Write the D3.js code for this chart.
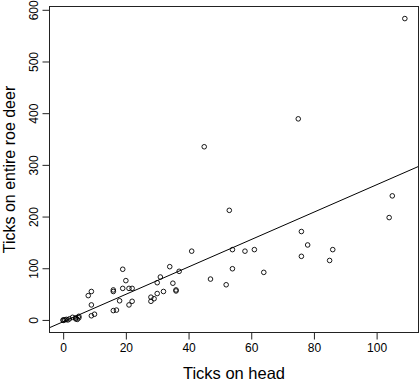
<!DOCTYPE html>
<html>
<head>
<meta charset="utf-8">
<script src="https://cdn.jsdelivr.net/npm/d3@7"></script>
<style>
  html, body { margin: 0; padding: 0; background: #fff; }
  svg { display: block; font-family: "Liberation Sans", Arial, sans-serif; }
</style>
</head>
<body>
<div id="chart"></div>
<script>
// ticks counted on the head vs on the whole animal
const headTicks = [0, 0, 0.5, 1, 1.5, 2, 3, 4, 4, 4.5, 5, 5,
  8, 9, 9, 9, 10,
  16, 16, 16, 17, 18,
  19, 20, 19, 21, 22, 21, 22,
  28, 28, 29, 30, 32, 30, 31, 34, 35, 36, 36, 37,
  41, 45, 47, 52, 53, 54, 54, 58, 61, 64,
  75, 76, 76, 78, 85, 86, 104, 105, 109];
const deerTicks = [0, 1, 1, 2, 1, 3, 6, 3, 5, 2, 8, 5,
  48, 56, 30, 9, 12,
  59, 56, 19, 20, 38,
  99, 77, 62, 62, 62, 30, 37,
  45, 37, 42, 52, 56, 73, 84, 104, 72, 59, 57, 95,
  134, 336, 80, 69, 213, 137, 100, 134, 137, 93,
  390, 172, 124, 146, 116, 137, 199, 241, 584];

const xTickValues = [0, 20, 40, 60, 80, 100];
const yTickValues = [0, 100, 200, 300, 400, 500, 600];

// fitted line (intercept, slope)
const fitCoef = [-2.5, 2.65];

const width = 420, height = 381;
const plot = { left: 49.5, right: 418.5, top: 6.5, bottom: 332.5 };

// R-style 4% padding of the data range
function padded(ext) {
  const d = (ext[1] - ext[0]) * 0.04;
  return [ext[0] - d, ext[1] + d];
}

const x = d3.scaleLinear()
  .domain(padded(d3.extent(headTicks)))
  .range([plot.left, plot.right]);
const y = d3.scaleLinear()
  .domain(padded(d3.extent(deerTicks)))
  .range([plot.bottom, plot.top]);

const svg = d3.select('#chart')
  .append('svg')
  .attr('width', width)
  .attr('height', height);

// points
svg.append('g')
  .selectAll('circle')
  .data(headTicks.map((v, i) => [v, deerTicks[i]]))
  .enter()
  .append('circle')
  .attr('cx', d => x(d[0]))
  .attr('cy', d => y(d[1]))
  .attr('r', 2.3)
  .attr('fill', 'none')
  .attr('stroke', '#000')
  .attr('stroke-width', 0.9);

// regression line across the plot region
const xd = x.domain();
svg.append('line')
  .attr('x1', x(xd[0]))
  .attr('y1', y(fitCoef[0] + fitCoef[1] * xd[0]))
  .attr('x2', x(xd[1]))
  .attr('y2', y(fitCoef[0] + fitCoef[1] * xd[1]))
  .attr('stroke', '#000')
  .attr('stroke-width', 1);

// axes
const xAxis = svg.append('g')
  .attr('transform', `translate(0, ${plot.bottom})`)
  .call(d3.axisBottom(x).tickValues(xTickValues).tickSize(7).tickPadding(4).tickFormat(d3.format('d')));
xAxis.selectAll('text')
  .attr('font-size', '12px')
  .attr('fill', '#000')
  .attr('font-family', '"Liberation Sans", Arial, sans-serif');

const yAxis = svg.append('g')
  .attr('transform', `translate(${plot.left}, 0)`)
  .call(d3.axisLeft(y).tickValues(yTickValues).tickSize(7).tickFormat(d3.format('d')));
yAxis.selectAll('text')
  .attr('font-size', '12px')
  .attr('fill', '#000')
  .attr('font-family', '"Liberation Sans", Arial, sans-serif')
  .attr('text-anchor', 'middle')
  .attr('x', null)
  .attr('dy', null)
  .attr('transform', d => `translate(-11.5, ${y(d)}) rotate(-90)`)
  .attr('y', 0);
yAxis.selectAll('.tick').attr('transform', null);
yAxis.selectAll('.tick line').attr('transform', d => `translate(0, ${y(d)})`);

[xAxis, yAxis].forEach(a => {
  a.select('.domain').remove();
  a.selectAll('.tick line').attr('stroke', '#222');
});

// box
svg.append('rect')
  .attr('x', plot.left)
  .attr('y', plot.top)
  .attr('width', plot.right - plot.left)
  .attr('height', plot.bottom - plot.top)
  .attr('fill', 'none')
  .attr('stroke', '#222')
  .attr('stroke-width', 1);

// axis titles
svg.append('text')
  .attr('x', (plot.left + plot.right) / 2)
  .attr('y', 379)
  .attr('text-anchor', 'middle')
  .attr('font-size', '16.5px')
  .attr('fill', '#000')
  .text('Ticks on head');

svg.append('text')
  .attr('transform', `translate(14.5, ${(plot.top + plot.bottom) / 2}) rotate(-90)`)
  .attr('text-anchor', 'middle')
  .attr('font-size', '16px')
  .attr('fill', '#000')
  .text('Ticks on entire roe deer');
</script>
</body>
</html>
